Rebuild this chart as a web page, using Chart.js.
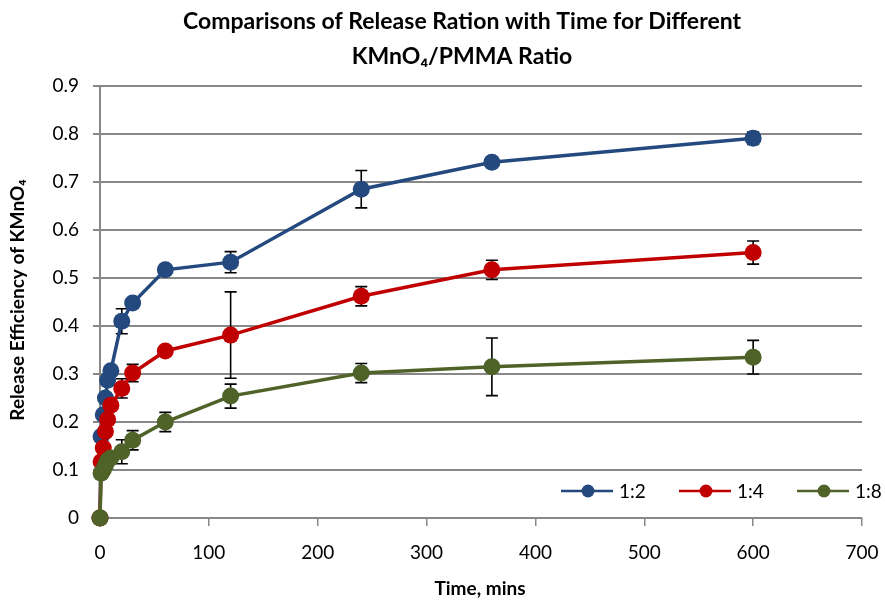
<!DOCTYPE html>
<html>
<head>
<meta charset="utf-8">
<script src="https://cdn.jsdelivr.net/npm/chart.js@4.4.1/dist/chart.umd.min.js"></script>
<style>
  body { margin: 0; background: #fff; }
  #wrap { width: 885px; height: 600px; }
</style>
</head>
<body>
<div id="wrap"><canvas id="releaseCanvas" width="885" height="600"></canvas></div>
<script>
// time points (mins)
var times = [0, 1, 3, 5, 7, 10, 20, 30, 60, 120, 240, 360, 600];

// release efficiency for each KMnO4/PMMA ratio
var ratio12 = [0, 0.17, 0.215, 0.25, 0.287, 0.307, 0.41, 0.448, 0.517, 0.533, 0.685, 0.741, 0.791];
var ratio14 = [0, 0.117, 0.146, 0.18, 0.205, 0.235, 0.27, 0.302, 0.348, 0.381, 0.462, 0.517, 0.553];
var ratio18 = [0, 0.093, 0.1, 0.11, 0.12, 0.125, 0.138, 0.162, 0.2, 0.254, 0.302, 0.315, 0.335];

// error bar half heights
var err12 = [0, 0.005, 0.005, 0.006, 0.006, 0.008, 0.026, 0.008, 0.006, 0.022, 0.039, 0.008, 0.013];
var err14 = [0, 0.005, 0.005, 0.006, 0.006, 0.01, 0.02, 0.018, 0.006, 0.09, 0.02, 0.02, 0.024];
var err18 = [0, 0.005, 0.005, 0.006, 0.006, 0.008, 0.025, 0.02, 0.02, 0.025, 0.02, 0.06, 0.035];

var seriesNames = ['1:2', '1:4', '1:8'];
var seriesColors = ['#23497E', '#C00000', '#4F6228'];

var xTicks = [0, 100, 200, 300, 400, 500, 600, 700];
var yTicks = [0, 0.1, 0.2, 0.3, 0.4, 0.5, 0.6, 0.7, 0.8, 0.9];

var titleLines = ['Comparisons of Release Ration with Time for Different', 'KMnO\u2084/PMMA Ratio'];
var xTitle = 'Time, mins';
var yTitle = 'Release Efficiency of KMnO\u2084';

function toPoints(vals) {
  var pts = [];
  for (var i = 0; i < times.length; i++) {
    pts.push({x: times[i], y: vals[i]});
  }
  return pts;
}

var allErrs = [err12, err14, err18];

// error bars drawn under the markers
var errorBarPlugin = {
  id: 'errorBars',
  beforeDatasetsDraw: function(chart) {
    var ctx = chart.ctx;
    var xs = chart.scales.x, ys = chart.scales.y;
    ctx.save();
    ctx.strokeStyle = '#000';
    ctx.lineWidth = 1.6;
    chart.data.datasets.forEach(function(ds, d) {
      var errs = allErrs[d];
      ds.data.forEach(function(p, i) {
        if (!errs[i]) return;
        var px = xs.getPixelForValue(p.x);
        var top = ys.getPixelForValue(p.y + errs[i]);
        var bot = ys.getPixelForValue(p.y - errs[i]);
        ctx.beginPath();
        ctx.moveTo(px, top); ctx.lineTo(px, bot);
        ctx.moveTo(px - 6, top); ctx.lineTo(px + 6, top);
        ctx.moveTo(px - 6, bot); ctx.lineTo(px + 6, bot);
        ctx.stroke();
      });
    });
    ctx.restore();
  }
};

// titles and in-plot legend
var textPlugin = {
  id: 'texts',
  afterDraw: function(chart) {
    var ctx = chart.ctx;
    ctx.save();
    ctx.fillStyle = '#000';
    ctx.textAlign = 'center';
    ctx.textBaseline = 'middle';
    ctx.font = 'bold 23px Lato, "Open Sans", sans-serif';
    ctx.fillText(titleLines[0], 462, 22);
    ctx.fillText(titleLines[1], 462, 57);

    ctx.font = 'bold 19px Lato, "Open Sans", sans-serif';
    ctx.fillText(xTitle, 480, 589);

    ctx.translate(18, 300);
    ctx.rotate(-Math.PI / 2);
    ctx.fillText(yTitle, 0, 0);
    ctx.restore();

    // legend
    ctx.save();
    ctx.font = '19px Lato, "Open Sans", sans-serif';
    ctx.textBaseline = 'middle';
    ctx.textAlign = 'left';
    var lx = [561, 679, 797];
    var ly = 491;
    for (var i = 0; i < seriesNames.length; i++) {
      ctx.strokeStyle = seriesColors[i];
      ctx.lineWidth = 2.5;
      ctx.beginPath();
      ctx.moveTo(lx[i], ly); ctx.lineTo(lx[i] + 52, ly);
      ctx.stroke();
      ctx.fillStyle = seriesColors[i];
      ctx.beginPath();
      ctx.arc(lx[i] + 27, ly, 6.5, 0, Math.PI * 2);
      ctx.fill();
      ctx.fillStyle = '#000';
      ctx.fillText(seriesNames[i], lx[i] + 58, ly + 1);
    }
    ctx.restore();
  }
};

var datasets = [];
var orders = [2, 1, 0];
[ratio12, ratio14, ratio18].forEach(function(vals, i) {
  datasets.push({
    label: seriesNames[i],
    data: toPoints(vals),
    borderColor: seriesColors[i],
    backgroundColor: seriesColors[i],
    pointBackgroundColor: seriesColors[i],
    pointBorderColor: seriesColors[i],
    borderWidth: 3.5,
    pointRadius: 8.5,
    pointBorderWidth: 0,
    tension: 0,
    clip: false,
    order: orders[i]
  });
});

var gridGrey = '#888888';
var ctx = document.getElementById('releaseCanvas').getContext('2d');
var releaseChart = new Chart(ctx, {
  type: 'line',
  data: {datasets: datasets},
  plugins: [errorBarPlugin, textPlugin],
  options: {
    responsive: false,
    animation: false,
    layout: {padding: {left: 0, right: 23, top: 86, bottom: 0}},
    plugins: {legend: {display: false}, tooltip: {enabled: false}},
    scales: {
      x: {
        type: 'linear',
        min: 0, max: 700,
        afterBuildTicks: function(scale) {
          scale.ticks = xTicks.map(function(v) { return {value: v}; });
        },
        afterFit: function(scale) {
          scale.height = 82;
          scale.paddingLeft = 0;
          scale.paddingRight = 0;
        },
        grid: {drawOnChartArea: false, color: gridGrey, lineWidth: 1.5, tickLength: 8},
        border: {color: gridGrey, width: 2},
        ticks: {color: '#000', padding: 15, maxRotation: 0, font: {family: 'Lato', size: 19}}
      },
      y: {
        min: 0, max: 0.9,
        afterBuildTicks: function(scale) {
          scale.ticks = yTicks.map(function(v) { return {value: v}; });
        },
        afterFit: function(scale) {
          scale.width = 100;
          scale.paddingTop = 0;
          scale.paddingBottom = 0;
        },
        grid: {color: gridGrey, lineWidth: 2, tickLength: 7},
        border: {color: gridGrey, width: 2},
        ticks: {color: '#000', padding: 14, font: {family: 'Lato', size: 19},
          callback: function(v) { return v === 0 ? '0' : v.toFixed(1); }}
      }
    }
  }
});
</script>
</body>
</html>
